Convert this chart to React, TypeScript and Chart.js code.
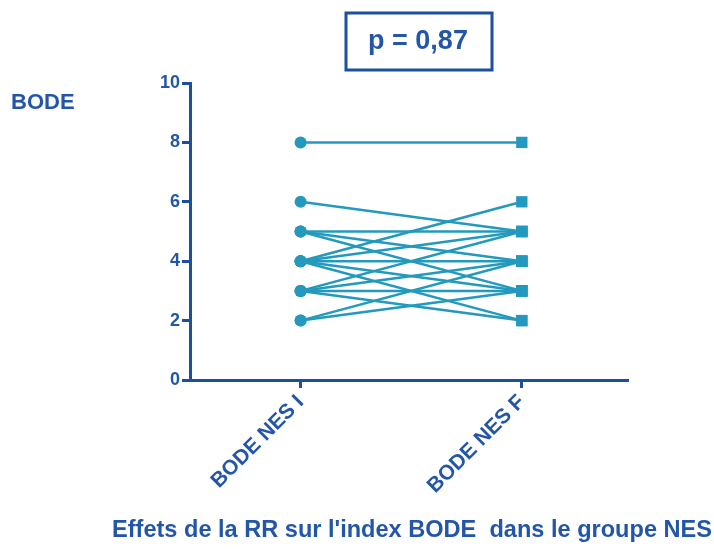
import React, { useEffect, useRef } from "react";
import { Chart, registerables } from "chart.js";

Chart.register(...registerables);

const categories = ["BODE NES I", "BODE NES F"];
const bodeInitial = [8, 6, 5, 5, 5, 4, 4, 4, 4, 4, 3, 3, 3, 2, 2, 3];
const bodeFinal = [8, 5, 5, 4, 3, 6, 5, 4, 3, 2, 3, 4, 2, 4, 3, 5];
const yTicks = [0, 2, 4, 6, 8, 10];
const pText = "p = 0,87";
const yTitle = "BODE";
const xTitle = "Effets de la RR sur l'index BODE  dans le groupe NES";

const AXIS = "#1d4f9f";
const TEXT = "#2356a8";
const LINE = "#2399bd";
const FONT = "'Liberation Sans', Arial, sans-serif";

export default function App() {
  const ref = useRef<HTMLCanvasElement | null>(null);

  useEffect(() => {
    if (!ref.current) return;
    const datasets = bodeInitial.map((a, i) => ({
      data: [
        { x: 1, y: a },
        { x: 2, y: bodeFinal[i] },
      ],
      borderColor: LINE,
      backgroundColor: LINE,
      borderWidth: 2.5,
      pointStyle: ["circle", "rect"],
      pointRadius: [6, 8],
      pointBorderWidth: 0,
      showLine: true,
    }));

    const overlay = {
      id: "overlay",
      afterDraw(chart: any) {
        const ctx = chart.ctx;
        ctx.save();
        ctx.strokeStyle = AXIS;
        ctx.lineWidth = 3;
        ctx.strokeRect(346, 13, 146, 57);
        ctx.fillStyle = TEXT;
        ctx.font = `bold 27px ${FONT}`;
        ctx.textAlign = "center";
        ctx.textBaseline = "middle";
        ctx.fillText(pText, 418, 42);
        ctx.font = `bold 24px ${FONT}`;
        ctx.fillText(xTitle, 412, 530, 600);
        ctx.font = `bold 22px ${FONT}`;
        ctx.textAlign = "left";
        ctx.fillText(yTitle, 11, 103);
        ctx.restore();
      },
    };

    const chart = new Chart(ref.current, {
      type: "scatter",
      data: { datasets: datasets as any },
      plugins: [overlay],
      options: {
        animation: false,
        responsive: false,
        layout: { padding: { left: 0, right: 86, top: 83, bottom: 0 } },
        plugins: { legend: { display: false }, tooltip: { enabled: false } },
        scales: {
          x: {
            type: "linear",
            min: 0.5,
            max: 2.48,
            afterBuildTicks: (s: any) => {
              s.ticks = [{ value: 1 }, { value: 2 }];
            },
            afterFit: (s: any) => {
              s.height = 169;
            },
            ticks: {
              callback: (v: any) => categories[Math.round(v) - 1] ?? "",
              minRotation: 45,
              maxRotation: 45,
              color: TEXT,
              font: { family: FONT, size: 21, weight: "bold" },
              padding: 2,
            },
            grid: {
              drawOnChartArea: false,
              drawTicks: true,
              tickLength: 8,
              tickWidth: 3,
              tickColor: AXIS,
            },
            border: { color: AXIS, width: 3 },
          },
          y: {
            min: 0,
            max: 10,
            afterBuildTicks: (s: any) => {
              s.ticks = yTicks.map((v) => ({ value: v }));
            },
            afterFit: (s: any) => {
              s.width = 190;
            },
            ticks: {
              color: TEXT,
              font: { family: FONT, size: 18, weight: "bold" },
              padding: 2,
            },
            grid: {
              drawOnChartArea: false,
              drawTicks: true,
              tickLength: 8,
              tickWidth: 3,
              tickColor: AXIS,
            },
            border: { color: AXIS, width: 3 },
          },
        },
      },
    });
    return () => chart.destroy();
  }, []);

  return (
    <div style={{ position: "fixed", left: 0, top: 0, width: 714, height: 549, background: "#fff" }}>
      <canvas ref={ref} width={714} height={549} style={{ width: 714, height: 549 }} />
    </div>
  );
}
